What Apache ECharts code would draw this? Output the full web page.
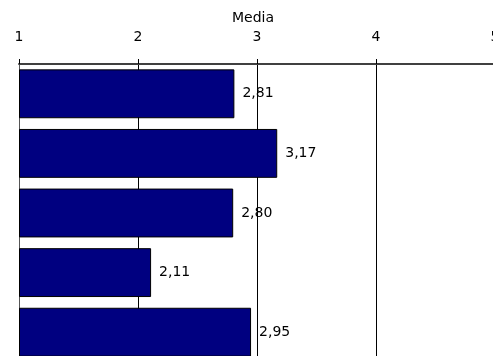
<!DOCTYPE html>
<html>
<head>
<meta charset="utf-8">
<script src="https://cdn.jsdelivr.net/npm/echarts@6/dist/echarts.min.js"></script>
<style>
html,body{margin:0;padding:0;background:#fff;}
#c{width:493px;height:356px;}
</style>
</head>
<body>
<div id="c"></div>
<script>
var categories = ['Item 1', 'Item 2', 'Item 3', 'Item 4', 'Item 5'];
var values = [2.81, 3.17, 2.80, 2.11, 2.95];
var axisTicks = [1, 2, 3, 4, 5];
var axisTitle = 'Media';

var FONT = '"DejaVu Sans", Verdana, sans-serif';
var chart = echarts.init(document.getElementById('c'), null, {renderer: 'canvas'});
chart.setOption({
  animation: false,
  backgroundColor: '#ffffff',
  grid: {left: 19, right: -2, top: 64, bottom: -6, containLabel: false, outerBoundsMode: 'none'},
  xAxis: {
    type: 'value',
    position: 'top',
    min: axisTicks[0],
    max: axisTicks[axisTicks.length - 1],
    interval: 1,
    startValue: 1,
    name: axisTitle,
    nameLocation: 'middle',
    nameGap: 36,
    nameTextStyle: {fontFamily: FONT, fontSize: 14, color: '#000', padding: [0, 8, 0, 0]},
    axisLine: {show: true, lineStyle: {color: '#404040', width: 2}},
    axisTick: {show: true, length: 5, inside: false, lineStyle: {color: '#000', width: 1}},
    axisLabel: {margin: 20, fontFamily: FONT, fontSize: 14, color: '#000',
      formatter: function (v) { return String(v); }},
    splitLine: {show: true, lineStyle: {color: '#000', width: 1}}
  },
  yAxis: {
    type: 'category',
    data: categories,
    inverse: true,
    axisLine: {show: true, lineStyle: {color: '#555', width: 1}},
    axisTick: {show: false},
    axisLabel: {show: false},
    splitLine: {show: false}
  },
  series: [{
    type: 'bar',
    data: values,
    barCategoryGap: '18%',
    itemStyle: {color: '#000080', borderColor: '#000', borderWidth: 1},
    label: {
      show: true,
      position: 'right',
      distance: 8,
      color: '#000',
      fontFamily: FONT,
      fontSize: 14,
      formatter: function (p) { return p.value.toFixed(2).replace('.', ','); }
    }
  }]
});
</script>
</body>
</html>
